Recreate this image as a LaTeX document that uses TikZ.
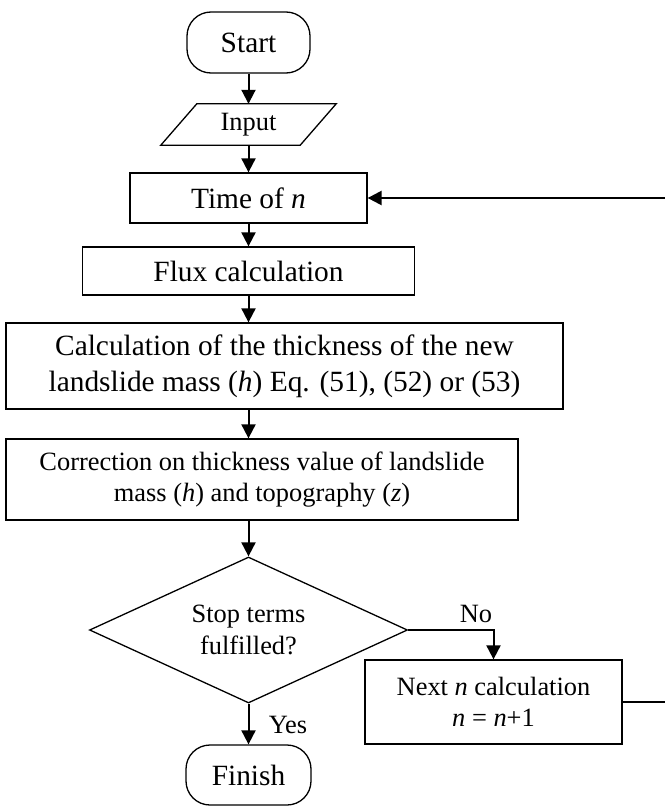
\documentclass[tikz,border=0pt]{standalone}
\usepackage{fontspec}
\setmainfont{Liberation Serif}
\usetikzlibrary{shapes.geometric,arrows.meta}
\begin{document}
\begin{tikzpicture}[x=1bp,y=-1bp,
  box/.style={draw,line width=1.3bp,inner sep=0pt,align=center},
  conn/.style={line width=2bp,-{Triangle[length=14bp,width=14bp]}},
  bigf/.style={font=\fontsize{29.5}{36}\selectfont},
  smf/.style={font=\fontsize{26.5}{31}\selectfont}]
\useasboundingbox (0,0) rectangle (665,807);
\node[box,bigf,rounded corners=24bp,minimum width=123bp,minimum height=61bp] (start) at (248.5,42.5) {Start};
\node[smf,inner sep=0pt,minimum width=139bp,minimum height=41bp] (input) at (248.5,124.5) {Input};
\draw[line width=1.3bp] ([xshift=18bp]input.north west) -- ([xshift=18bp]input.north east) -- ([xshift=-18bp]input.south east) -- ([xshift=-18bp]input.south west) -- cycle;
\node[box,bigf,minimum width=237bp,minimum height=50bp] (time) at (248.5,198) {Time of \textit{n}};
\node[box,bigf,minimum width=332bp,minimum height=48bp] (flux) at (248.5,271) {Flux calculation};
\node[box,bigf,minimum width=557bp,minimum height=86bp] (calc) at (284.5,366) {Calculation of the thickness of the new\\landslide mass (\textit{h}) Eq. (51), (52) or (53)};
\node[box,smf,minimum width=512bp,minimum height=81bp] (corr) at (262,479.5) {Correction on thickness value of landslide\\mass (\textit{h}) and topography (\textit{z})};
\node[box,smf,shape=diamond,aspect=2.18,minimum width=318bp,minimum height=146bp,font=\fontsize{26.5}{32}\selectfont] (dec) at (248.5,630) {Stop terms\\fulfilled?};
\node[box,smf,minimum width=257bp,minimum height=84bp] (next) at (493.5,702) {Next \textit{n} calculation\\\textit{n} = \textit{n}+1};
\node[box,bigf,rounded corners=24bp,minimum width=125bp,minimum height=60bp] (finish) at (248.5,775) {Finish};
\node[smf,inner sep=0pt] (no) at (476,614) {No};
\node[smf,inner sep=0pt] (yes) at (288,725) {Yes};
\draw[conn] (start.south) -- (input.north);
\draw[conn] (input.south) -- (time.north);
\draw[conn] (time.south) -- (flux.north);
\draw[conn] (flux.south) -- (flux.south |- calc.north);
\draw[conn] (flux.south |- calc.south) -- (flux.south |- corr.north);
\draw[conn] (flux.south |- corr.south) -- (dec.north);
\draw[conn] (dec.east) -| (next.north);
\draw[conn] (dec.south) -- (finish.north);
\draw[conn,line width=2.4bp] (next.east) -- ++(47,0) |- (time.east);
\end{tikzpicture}
\end{document}
